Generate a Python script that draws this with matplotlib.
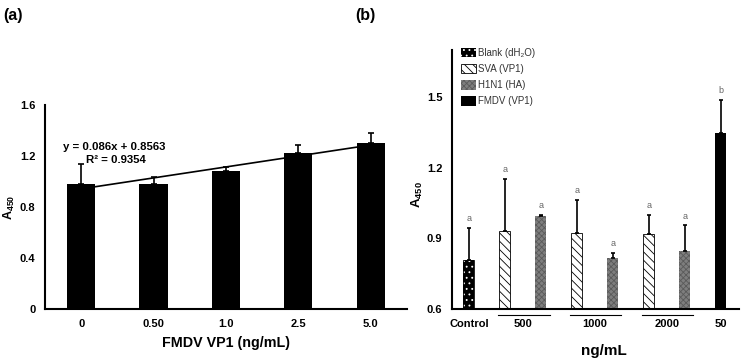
import numpy as np
import matplotlib
matplotlib.use("Agg")
import matplotlib.pyplot as plt
from matplotlib.patches import Patch
from matplotlib.transforms import blended_transform_factory

plt.rcParams['font.family'] = ['Liberation Sans', 'DejaVu Sans']
plt.rcParams['mathtext.fontset'] = 'custom'
plt.rcParams['mathtext.rm'] = 'Liberation Sans'
plt.rcParams['mathtext.bf'] = 'Liberation Sans:bold'
plt.rcParams['hatch.linewidth'] = 0.6

# panel (a) data
a_labels = ['0', '0.50', '1.0', '2.5', '5.0']
a_means = [0.98, 0.98, 1.08, 1.22, 1.30]
a_errs = [0.16, 0.055, 0.03, 0.07, 0.08]
trend_slope, trend_icpt = 0.086, 0.8563

# panel (b) data: one bar per slot
b_series = ['blank', 'sva', 'h1n1', 'sva', 'h1n1', 'sva', 'h1n1', 'fmdv']
b_means = [0.807, 0.93, 0.993, 0.921, 0.815, 0.92, 0.845, 1.348]
b_errs = [0.139, 0.223, 0.007, 0.144, 0.022, 0.08, 0.11, 0.139]
b_letters = ['a', 'a', 'a', 'a', 'a', 'a', 'a', 'b']
b_groups = ['Control', '500', '1000', '2000', '50']
b_group_pos = [0, 1.5, 3.5, 5.5, 7]
legend_names = {'blank': 'Blank (dH₂O)', 'sva': 'SVA (VP1)',
                'h1n1': 'H1N1 (HA)', 'fmdv': 'FMDV (VP1)'}

styles = {
    'blank': dict(facecolor='black', edgecolor='white', hatch='...', linewidth=0),
    'sva': dict(facecolor='white', edgecolor='black', hatch='\\\\\\\\', linewidth=0.6),
    'h1n1': dict(facecolor='#7e7e7e', edgecolor='#5a5a5a', hatch='xxxxxx', linewidth=0),
    'fmdv': dict(facecolor='black', edgecolor='black', linewidth=0),
}

fig = plt.figure(figsize=(7.44, 3.6), dpi=100)
axa = fig.add_axes([0.0605, 0.1417, 0.4865, 0.5666])
axb = fig.add_axes([0.6075, 0.1417, 0.3855, 0.7193])

for ax in (axa, axb):
    for s in ('top', 'right'):
        ax.spines[s].set_visible(False)
    for s in ('left', 'bottom'):
        ax.spines[s].set_linewidth(1.5)
    ax.tick_params(length=0, pad=7, labelsize=8)

# ---- panel (a)
xa = np.arange(len(a_labels))
axa.bar(xa, a_means, width=0.39, color='black', zorder=2)
axa.errorbar(xa, a_means, yerr=[np.zeros(len(xa)), a_errs], fmt='none',
             ecolor='black', elinewidth=1.2, capsize=2, capthick=1.2, zorder=3)
xt = np.array([xa[0], xa[-1]])
axa.plot(xt, trend_slope * (xt + 1) + trend_icpt, color='black', lw=1.2, zorder=1)
axa.set_xlim(-0.5, 4.5)
axa.set_ylim(0, 1.6)
axa.set_xticks(xa)
axa.set_xticklabels(a_labels, fontweight='bold')
axa.set_yticks([0, 0.4, 0.8, 1.2, 1.6])
axa.set_yticklabels(['0', '0.4', '0.8', '1.2', '1.6'], fontweight='bold')
axa.set_xlabel('FMDV VP1 (ng/mL)', fontsize=10.3, fontweight='bold', labelpad=5)
axa.set_ylabel(r'$\mathbf{A_{450}}$', fontsize=9)
axa.yaxis.set_label_coords(-0.078, 0.5)
axa.text(0.19, 0.795, 'y = 0.086x + 0.8563', transform=axa.transAxes,
         ha='center', va='center', fontsize=8.2, fontweight='bold')
axa.text(0.195, 0.73, 'R² = 0.9354', transform=axa.transAxes,
         ha='center', va='center', fontsize=8.2, fontweight='bold')

# ---- panel (b)
xb = np.arange(len(b_means))
for x, s, m, e, l in zip(xb, b_series, b_means, b_errs, b_letters):
    axb.bar(x, m - 0.6, bottom=0.6, width=0.31, zorder=2, **styles[s])
    if s == 'blank':
        axb.bar(x, m - 0.6, bottom=0.6, width=0.31, fill=False,
                edgecolor='black', linewidth=0.6, zorder=2)
    axb.annotate(l, (x, m + e), xytext=(0, 3.5), textcoords='offset points',
                 ha='center', va='bottom', fontsize=6.5, color='#666666')
axb.errorbar(xb, b_means, yerr=[np.zeros(len(xb)), b_errs], fmt='none',
             ecolor='black', elinewidth=1.2, capsize=1.5, capthick=1.2, zorder=3)
axb.set_xlim(-0.47, 7.5)
axb.set_ylim(0.6, 1.7)
axb.set_xticks(b_group_pos)
axb.set_xticklabels(b_groups, fontweight='bold')
axb.set_yticks([0.6, 0.9, 1.2, 1.5])
axb.set_yticklabels(['0.6', '0.9', '1.2', '1.5'], fontweight='bold')
axb.set_xlabel('ng/mL', fontsize=11, fontweight='bold')
axb.xaxis.set_label_coords(0.53, -0.135)
axb.set_ylabel(r'$\mathbf{A_{450}}$', fontsize=9.5)
axb.yaxis.set_label_coords(-0.095, 0.44)
tr = blended_transform_factory(axb.transData, axb.transAxes)
for p in b_group_pos[1:4]:
    axb.plot([p - 0.68, p + 0.74], [-0.023, -0.023], transform=tr,
             color='black', lw=0.8, clip_on=False)

handles = []
for key in ['blank', 'sva', 'h1n1', 'fmdv']:
    handles.append(Patch(label=legend_names[key], **styles[key]))
leg = axb.legend(handles=handles, loc='upper left', bbox_to_anchor=(0.01, 1.03),
                 frameon=False, fontsize=7, handlelength=1.6, handleheight=1.1,
                 handletextpad=0.15, labelspacing=0.62, borderaxespad=0.2)
for t in leg.get_texts():
    t.set_color('#333333')

fig.text(0.004, 0.958, '(a)', fontsize=11.5, fontweight='bold', va='center')
fig.text(0.477, 0.958, '(b)', fontsize=11.5, fontweight='bold', va='center')

fig.savefig('out.png', dpi=100)
